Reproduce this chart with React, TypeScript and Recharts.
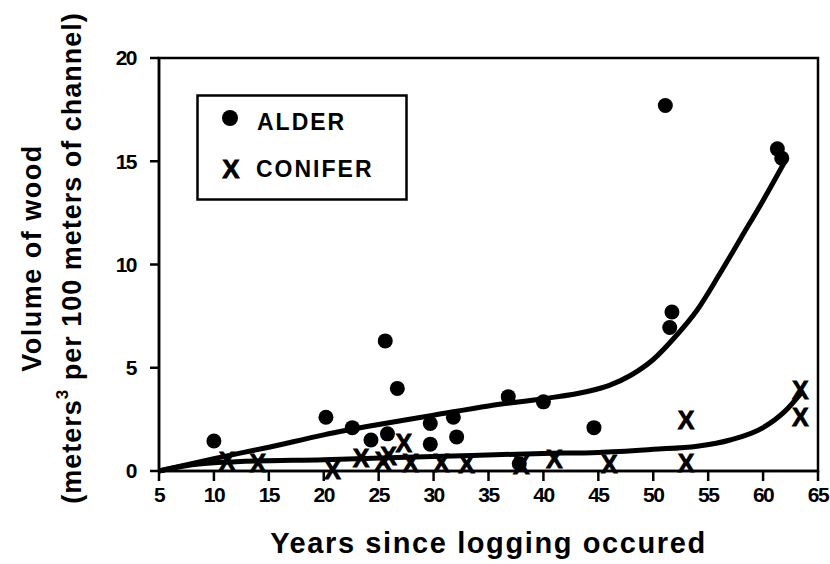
import { ComposedChart, Scatter, Line, XAxis, YAxis, ReferenceArea } from "recharts";

const alderX = [10, 20.2, 22.6, 24.3, 25.6, 25.8, 26.7, 29.7, 29.7, 31.8, 32.1, 36.8, 37.8, 40, 44.6, 51.1, 51.5, 51.7, 61.3, 61.7];
const alderY = [1.45, 2.6, 2.1, 1.5, 6.3, 1.8, 4.0, 2.3, 1.3, 2.6, 1.65, 3.6, 0.35, 3.35, 2.1, 17.7, 6.95, 7.7, 15.6, 15.15];

const coniferX = [11.2, 14, 20.8, 23.4, 25.4, 25.9, 27.3, 27.9, 30.7, 33, 38, 41, 46, 53, 53, 63.4, 63.4];
const coniferY = [0.5, 0.4, 0.05, 0.65, 0.5, 0.75, 1.35, 0.4, 0.4, 0.35, 0.3, 0.6, 0.35, 2.45, 0.4, 3.9, 2.6];

// fitted curves as drawn in the figure
const alderFitX = [5, 10, 15, 20, 25, 30, 35, 40, 44, 46, 48, 50, 52, 54, 56, 58, 60, 62];
const alderFitY = [0, 0.6, 1.15, 1.75, 2.25, 2.7, 3.15, 3.5, 3.85, 4.15, 4.65, 5.4, 6.5, 7.8, 9.5, 11.3, 13.1, 15.0];
const coniferFitX = [5, 8, 12, 20, 30, 40, 45, 50, 54, 57, 60, 62, 63.5];
const coniferFitY = [0, 0.3, 0.45, 0.55, 0.7, 0.85, 0.9, 1.05, 1.2, 1.5, 2.1, 2.9, 3.8];

const xTicks = [5, 10, 15, 20, 25, 30, 35, 40, 45, 50, 55, 60, 65];
const yTicks = [0, 5, 10, 15, 20];

const alder = alderX.map((x, i) => ({ x, y: alderY[i] }));
const conifer = coniferX.map((x, i) => ({ x, y: coniferY[i] }));
const alderFit = alderFitX.map((x, i) => ({ x, y: alderFitY[i] }));
const coniferFit = coniferFitX.map((x, i) => ({ x, y: coniferFitY[i] }));

const titleFont = "'Liberation Sans', Arial, Helvetica, sans-serif";
const tickFont = { fontFamily: titleFont, fontWeight: 700, fontSize: 21, fill: "#000", letterSpacing: -1.5 };

const Dot = (props: any) => <circle cx={props.cx} cy={props.cy} r={7.5} fill="#000" />;

const Cross = (props: any) => (
  <text
    x={props.cx}
    y={props.cy}
    textAnchor="middle"
    dominantBaseline="central"
    fontFamily={titleFont}
    fontWeight={700}
    fontSize={25}
    fill="#000"
    stroke="#000"
    strokeWidth={0.8}
  >
    X
  </text>
);

function LegendBox() {
  return (
    <svg
      width={212}
      height={107}
      style={{ position: "absolute", left: 196, top: 94 }}
      fontFamily={titleFont}
      fontWeight={700}
      fontSize={23}
      letterSpacing={2}
    >
      <rect x={1.5} y={1.5} width={209} height={104} fill="#fff" stroke="#000" strokeWidth={2.5} />
      <circle cx={34} cy={24} r={8} fill="#000" />
      <text x={35} y={75} textAnchor="middle" dominantBaseline="central" fontSize={26} letterSpacing={0} stroke="#000" strokeWidth={0.8}>X</text>
      <text x={61} y={28} dominantBaseline="central">ALDER</text>
      <text x={60} y={75} dominantBaseline="central">CONIFER</text>
    </svg>
  );
}

const YTitle = () => {
  const cy = 258;
  return (
    <g fontFamily={titleFont} fontWeight={700} fontSize={27} fill="#000" letterSpacing={1}>
      <text x={32} y={cy} textAnchor="middle" dominantBaseline="central" transform={`rotate(-90 32 ${cy})`} letterSpacing={1.5}>
        Volume of wood
      </text>
      <text x={72} y={cy} textAnchor="middle" dominantBaseline="central" transform={`rotate(-90 72 ${cy})`}>
        (meters<tspan fontSize={17} dy={-10}>3</tspan><tspan dy={10}> per 100 meters of channel)</tspan>
      </text>
    </g>
  );
};

export default function App() {
  return (
    <div style={{ position: "absolute", left: 0, top: 0, width: 830, height: 564, background: "#fff" }}>
      <ComposedChart width={830} height={564} margin={{ top: 58, right: 12, left: 79, bottom: 33 }}>
        <XAxis
          dataKey="x"
          type="number"
          domain={[5, 65]}
          ticks={xTicks}
          allowDuplicatedCategory={false}
          tick={tickFont}
          tickSize={10}
          tickMargin={6}
          axisLine={{ stroke: "#000", strokeWidth: 2.5 }}
          tickLine={{ stroke: "#000", strokeWidth: 2.5 }}
          height={60}
          label={{
            value: "Years since logging occured",
            position: "insideBottom",
            offset: -22,
            style: { fontFamily: titleFont, fontWeight: 700, fontSize: 29, fill: "#000", letterSpacing: 1.6 },
          }}
        />
        <YAxis
          dataKey="y"
          type="number"
          domain={[0, 20]}
          ticks={yTicks}
          tick={tickFont}
          tickSize={9}
          tickMargin={14}
          width={80}
          axisLine={{ stroke: "#000", strokeWidth: 2.5 }}
          tickLine={{ stroke: "#000", strokeWidth: 2.5 }}
          label={{ content: YTitle }}
        />
        <ReferenceArea x1={5} x2={65} y1={0} y2={20} fill="none" stroke="#000" strokeWidth={2.5} />
        <Line data={alderFit} dataKey="y" type="monotone" stroke="#000" strokeWidth={5} dot={false} isAnimationActive={false} />
        <Line data={coniferFit} dataKey="y" type="monotone" stroke="#000" strokeWidth={5} dot={false} isAnimationActive={false} />
        <Scatter data={alder} dataKey="y" shape={Dot} isAnimationActive={false} />
        <Scatter data={conifer} dataKey="y" shape={Cross} isAnimationActive={false} />
      </ComposedChart>
      <LegendBox />
    </div>
  );
}
